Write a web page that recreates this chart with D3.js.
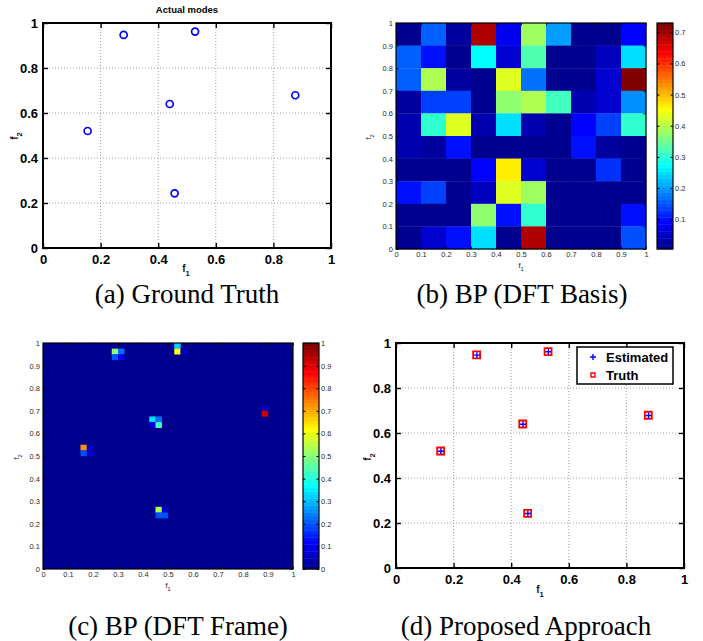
<!DOCTYPE html>
<html>
<head>
<meta charset="utf-8">
<script src="https://cdn.jsdelivr.net/npm/d3@7"></script>
<style>
body { margin: 0; background: #fff; }
</style>
</head>
<body>
<script>
// actual modes (f1, f2)
var truthF1 = [0.155, 0.280, 0.440, 0.528, 0.876, 0.457];
var truthF2 = [0.520, 0.947, 0.640, 0.962, 0.679, 0.243];
// modes found by the proposed approach
var estF1 = [0.156, 0.281, 0.441, 0.529, 0.877, 0.458];
var estF2 = [0.519, 0.946, 0.639, 0.961, 0.678, 0.242];

var scatterTicks = [0, 0.2, 0.4, 0.6, 0.8, 1];
var heatTicks = [0, 0.1, 0.2, 0.3, 0.4, 0.5, 0.6, 0.7, 0.8, 0.9, 1];

// BP, DFT basis: 10x10 cells, first row is f2 = 0.9..1, last row f2 = 0..0.1
var basisVals = [
  [0.010, 0.162, 0.026, 0.693, 0.075, 0.380, 0.198, 0.008, 0.010, 0.090],
  [0.162, 0.105, 0.010, 0.270, 0.060, 0.330, 0.008, 0.008, 0.040, 0.250],
  [0.162, 0.390, 0.022, 0.010, 0.425, 0.171, 0.008, 0.008, 0.055, 0.730],
  [0.018, 0.135, 0.135, 0.010, 0.375, 0.397, 0.316, 0.035, 0.050, 0.190],
  [0.035, 0.307, 0.430, 0.028, 0.250, 0.030, 0.010, 0.085, 0.135, 0.300],
  [0.035, 0.026, 0.095, 0.012, 0.012, 0.012, 0.010, 0.100, 0.026, 0.015],
  [0.010, 0.010, 0.010, 0.085, 0.469, 0.055, 0.008, 0.008, 0.125, 0.010],
  [0.095, 0.140, 0.010, 0.045, 0.425, 0.380, 0.010, 0.004, 0.008, 0.010],
  [0.010, 0.010, 0.010, 0.375, 0.100, 0.310, 0.008, 0.008, 0.008, 0.100],
  [0.010, 0.055, 0.100, 0.250, 0.012, 0.693, 0.008, 0.008, 0.008, 0.145]
];
var basisBarTicks = [0.1, 0.2, 0.3, 0.4, 0.5, 0.6, 0.7];

// BP, DFT frame: 40x40 cells, all zero except these (col along f1, row along f2 from 0)
var frameN = 40;
var frameCol = [11, 12, 11, 12, 21, 21, 22, 6, 6, 7, 7, 17, 18, 17, 18, 35, 35, 18, 19, 18, 19];
var frameRow = [38, 38, 37, 37, 39, 38, 38, 21, 20, 21, 20, 26, 26, 25, 25, 28, 27, 10, 10, 9, 9];
var frameVal = [0.50, 0.22, 0.20, 0.10, 0.32, 0.62, 0.06, 0.72, 0.19, 0.07, 0.07,
                0.33, 0.22, 0.09, 0.43, 0.055, 0.915, 0.54, 0.07, 0.19, 0.19];
var frameBarTicks = [0, 0.1, 0.2, 0.3, 0.4, 0.5, 0.6, 0.7, 0.8, 0.9, 1];

var captions = ["(a) Ground Truth", "(b) BP (DFT Basis)", "(c) BP (DFT Frame)", "(d) Proposed Approach"];

// matlab jet(64)
function jet(i) {
  var t = (i + 1) / 64;
  var c = function(v) { return Math.max(0, Math.min(1, v)); };
  return d3.rgb(255 * c(1.5 - Math.abs(4 * t - 3)),
                255 * c(1.5 - Math.abs(4 * t - 2)),
                255 * c(1.5 - Math.abs(4 * t - 1))).toString();
}
var jetColors = d3.range(64).map(jet);

var svg = d3.select("body").append("svg")
  .attr("width", 703)
  .attr("height", 641)
  .style("font-family", "'Liberation Sans', Arial, sans-serif");

var fmt = function(d) { return String(d); };

// f with a subscript
function fLabel(g, x, y, sub, size, weight, rotate) {
  var t = g.append("text")
    .attr("transform", "translate(" + x + "," + y + ")" + (rotate ? " rotate(-90)" : ""))
    .attr("text-anchor", "middle")
    .style("font-size", size + "px")
    .style("font-weight", weight)
    .style("fill", "#111");
  t.append("tspan").text("f");
  t.append("tspan").attr("dy", size * 0.35).style("font-size", (size * 0.75) + "px").text(sub);
}

function styleAxis(g, size, weight, color) {
  g.select(".domain").remove();
  g.selectAll("text").style("font-size", size + "px").style("font-weight", weight)
    .style("fill", color).style("font-family", "'Liberation Sans', Arial, sans-serif");
  g.selectAll("line").attr("stroke", "#000");
}

// scales for a unit box, plus the dotted grid
function boxAxes(box, ticks, o) {
  var x = d3.scaleLinear().domain([0, 1]).range([box.x0, box.x1]);
  var y = d3.scaleLinear().domain([0, 1]).range([box.y1, box.y0]);
  var g = svg.append("g");
  if (o.grid) {
    g.append("g").selectAll("line").data(ticks.slice(1, -1)).join("line")
      .attr("x1", d => x(d)).attr("x2", d => x(d)).attr("y1", box.y0).attr("y2", box.y1)
      .attr("stroke", "#8a8a8a").attr("stroke-width", 0.8).attr("stroke-dasharray", "1,2");
    g.append("g").selectAll("line").data(ticks.slice(1, -1)).join("line")
      .attr("y1", d => y(d)).attr("y2", d => y(d)).attr("x1", box.x0).attr("x2", box.x1)
      .attr("stroke", "#8a8a8a").attr("stroke-width", 0.8).attr("stroke-dasharray", "1,2");
  }
  return { x: x, y: y, g: g };
}

// frame with inward ticks on all four sides
function boxFrame(a, box, ticks, o) {
  var g = a.g;
  var bx = g.append("g").attr("transform", "translate(0," + box.y1 + ")")
    .call(d3.axisBottom(a.x).tickValues(ticks).tickSize(-o.tick).tickPadding(o.padX).tickFormat(fmt));
  styleAxis(bx, o.size, o.weight, o.color);
  var lx = g.append("g").attr("transform", "translate(" + box.x0 + ",0)")
    .call(d3.axisLeft(a.y).tickValues(ticks).tickSize(-o.tick).tickPadding(o.padY).tickFormat(fmt));
  styleAxis(lx, o.size, o.weight, o.color);
  var tx = g.append("g").attr("transform", "translate(0," + box.y0 + ")")
    .call(d3.axisTop(a.x).tickValues(ticks).tickSize(-o.tick).tickFormat(""));
  styleAxis(tx, o.size, o.weight, o.color);
  var rx = g.append("g").attr("transform", "translate(" + box.x1 + ",0)")
    .call(d3.axisRight(a.y).tickValues(ticks).tickSize(-o.tick).tickFormat(""));
  styleAxis(rx, o.size, o.weight, o.color);
  g.selectAll(".tick line").attr("stroke-width", o.stroke * 0.7);
  g.append("rect")
    .attr("x", box.x0).attr("y", box.y0)
    .attr("width", box.x1 - box.x0).attr("height", box.y1 - box.y0)
    .attr("fill", "none").attr("stroke", "#000").attr("stroke-width", o.stroke);
}

function colorbar(bar, domain, ticks) {
  var cy = d3.scaleLinear().domain(domain).range([bar.y1, bar.y0]);
  var step = (domain[1] - domain[0]) / 64;
  var g = svg.append("g");
  g.selectAll("rect.band").data(d3.range(64)).join("rect")
    .attr("class", "band")
    .attr("x", bar.x0).attr("width", bar.x1 - bar.x0)
    .attr("y", i => cy(domain[0] + (i + 1) * step))
    .attr("height", i => cy(domain[0] + i * step) - cy(domain[0] + (i + 1) * step) + 0.4)
    .attr("fill", i => jetColors[i]);
  var r = g.append("g").attr("transform", "translate(" + bar.x1 + ",0)")
    .call(d3.axisRight(cy).tickValues(ticks).tickSize(-2.5).tickPadding(2).tickFormat(fmt));
  styleAxis(r, 7.5, "normal", "#2a2a2a");
  var l = g.append("g").attr("transform", "translate(" + bar.x0 + ",0)")
    .call(d3.axisLeft(cy).tickValues(ticks).tickSize(-2.5).tickFormat(""));
  styleAxis(l, 7.5, "normal", "#2a2a2a");
  g.append("rect").attr("x", bar.x0).attr("y", bar.y0)
    .attr("width", bar.x1 - bar.x0).attr("height", bar.y1 - bar.y0)
    .attr("fill", "none").attr("stroke", "#000").attr("stroke-width", 1.2);
}

var scatterOpts = { tick: 5, padX: 7, padY: 5, size: 13, weight: "bold", color: "#000", stroke: 2 };
var heatOpts = { tick: 2.5, padX: 3, padY: 3, size: 7.5, weight: "normal", color: "#2a2a2a", stroke: 1.2 };

// ---------- (a) ground truth ----------
var boxA = { x0: 43, x1: 331, y0: 23, y1: 248 };
var a = boxAxes(boxA, scatterTicks, { grid: true });
a.g.append("g").selectAll("circle").data(d3.range(truthF1.length)).join("circle")
  .attr("cx", i => a.x(truthF1[i]))
  .attr("cy", i => a.y(truthF2[i]))
  .attr("r", 3.5)
  .attr("fill", "none")
  .attr("stroke", "#0000ff")
  .attr("stroke-width", 1.7);
boxFrame(a, boxA, scatterTicks, scatterOpts);
svg.append("text").attr("x", 187).attr("y", 13).attr("text-anchor", "middle")
  .style("font-size", "9.5px").style("font-weight", "bold").text("Actual modes");
fLabel(svg, 186, 272, "1", 10, "bold", false);
fLabel(svg, 18, 136, "2", 10, "bold", true);

// ---------- (b) BP, DFT basis ----------
var boxB = { x0: 396, x1: 646, y0: 23, y1: 249 };
var b = boxAxes(boxB, heatTicks, {});
var nB = basisVals.length;
var bExtent = d3.extent(basisVals.flat());
var bColor = d3.scaleQuantize().domain(bExtent).range(jetColors);
var bCells = basisVals.flatMap((row, r) => row.map((v, c) => ({ r: nB - 1 - r, c: c, v: v })));
b.g.append("g").selectAll("rect").data(bCells).join("rect")
  .attr("x", d => b.x(d.c / nB))
  .attr("y", d => b.y((d.r + 1) / nB))
  .attr("width", d => b.x((d.c + 1) / nB) - b.x(d.c / nB) + 0.3)
  .attr("height", d => b.y(d.r / nB) - b.y((d.r + 1) / nB) + 0.3)
  .attr("fill", d => bColor(d.v));
boxFrame(b, boxB, heatTicks, heatOpts);
colorbar({ x0: 657, x1: 673, y0: 23, y1: 249 }, bExtent, basisBarTicks);
fLabel(svg, 521, 268, "1", 7.5, "normal", false);
fLabel(svg, 371, 137, "2", 7.5, "normal", true);

// ---------- (c) BP, DFT frame ----------
var boxC = { x0: 43, x1: 293, y0: 343, y1: 569 };
var cAx = boxAxes(boxC, heatTicks, {});
var cColor = d3.scaleQuantize().domain([0, 1]).range(jetColors);
cAx.g.append("rect")
  .attr("x", cAx.x(0)).attr("y", cAx.y(1))
  .attr("width", cAx.x(1) - cAx.x(0)).attr("height", cAx.y(0) - cAx.y(1))
  .attr("fill", cColor(0));
cAx.g.append("g").selectAll("rect").data(d3.range(frameVal.length)).join("rect")
  .attr("x", i => cAx.x(frameCol[i] / frameN))
  .attr("y", i => cAx.y((frameRow[i] + 1) / frameN))
  .attr("width", i => cAx.x((frameCol[i] + 1) / frameN) - cAx.x(frameCol[i] / frameN) + 0.2)
  .attr("height", i => cAx.y(frameRow[i] / frameN) - cAx.y((frameRow[i] + 1) / frameN) + 0.2)
  .attr("fill", i => cColor(frameVal[i]));
boxFrame(cAx, boxC, heatTicks, heatOpts);
colorbar({ x0: 303, x1: 319, y0: 343, y1: 569 }, [0, 1], frameBarTicks);
fLabel(svg, 168, 588, "1", 7.5, "normal", false);
fLabel(svg, 19, 457, "2", 7.5, "normal", true);

// ---------- (d) proposed approach ----------
var boxD = { x0: 396, x1: 684, y0: 343, y1: 568 };
var dAx = boxAxes(boxD, scatterTicks, { grid: true });
var square = d3.symbol().type(d3.symbolSquare).size(49);
var plus = "M-3,0H3M0,-3V3";
dAx.g.append("g").selectAll("path").data(d3.range(truthF1.length)).join("path")
  .attr("transform", i => "translate(" + dAx.x(truthF1[i]) + "," + dAx.y(truthF2[i]) + ")")
  .attr("d", square)
  .attr("fill", "none").attr("stroke", "#ff0000").attr("stroke-width", 1.8);
dAx.g.append("g").selectAll("path").data(d3.range(estF1.length)).join("path")
  .attr("transform", i => "translate(" + dAx.x(estF1[i]) + "," + dAx.y(estF2[i]) + ")")
  .attr("d", plus)
  .attr("fill", "none").attr("stroke", "#0000ff").attr("stroke-width", 1.4);
boxFrame(dAx, boxD, scatterTicks, scatterOpts);
fLabel(svg, 540, 593, "1", 10, "bold", false);
fLabel(svg, 371, 457, "2", 10, "bold", true);

// legend
var leg = svg.append("g");
leg.append("rect").attr("x", 577).attr("y", 347).attr("width", 96).attr("height", 37)
  .attr("fill", "#fff").attr("stroke", "#000").attr("stroke-width", 1.5);
leg.append("path").attr("transform", "translate(593,357)").attr("d", plus)
  .attr("stroke", "#0000ff").attr("stroke-width", 1.4);
leg.append("path").attr("transform", "translate(593,375)").attr("d", d3.symbol().type(d3.symbolSquare).size(16))
  .attr("fill", "none").attr("stroke", "#ff0000").attr("stroke-width", 1.4);
leg.append("text").attr("x", 606).attr("y", 362).style("font-size", "13px").style("font-weight", "bold").text("Estimated");
leg.append("text").attr("x", 606).attr("y", 380).style("font-size", "13px").style("font-weight", "bold").text("Truth");

// captions
var capX = [187, 522, 178, 526];
var capY = [303, 303, 635, 635];
svg.append("g").selectAll("text").data(captions).join("text")
  .attr("x", (d, i) => capX[i])
  .attr("y", (d, i) => capY[i])
  .attr("text-anchor", "middle")
  .style("font-family", "'Liberation Serif', 'Times New Roman', serif")
  .style("font-size", "27px")
  .text(d => d);
</script>
</body>
</html>
